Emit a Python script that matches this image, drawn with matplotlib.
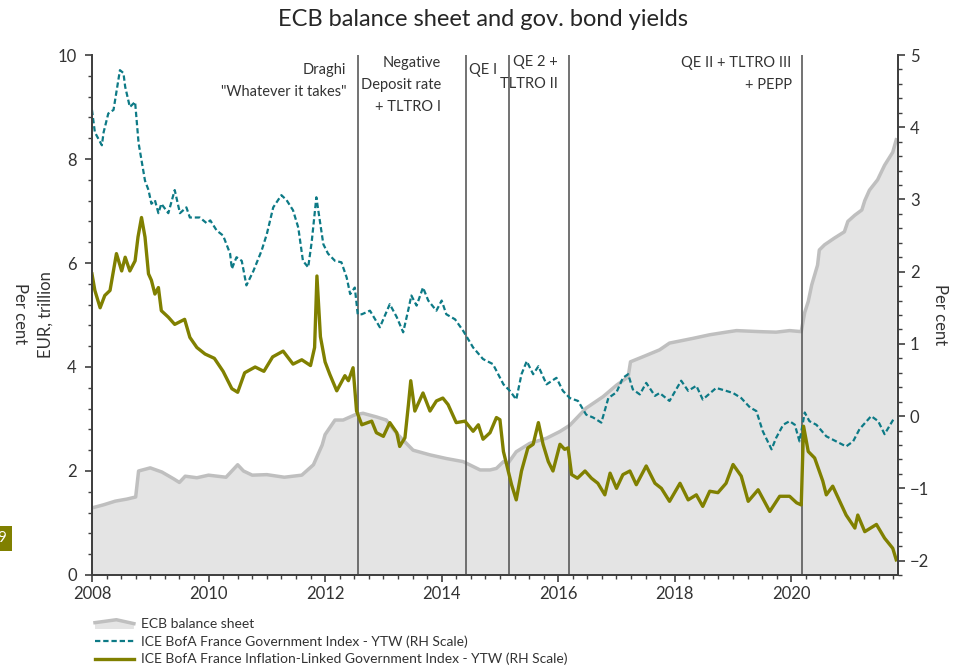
import matplotlib
matplotlib.use("Agg")
import matplotlib.pyplot as plt
import matplotlib.transforms as mtransforms
from matplotlib.ticker import MultipleLocator
from matplotlib.legend_handler import HandlerBase
from matplotlib.patches import Polygon
from matplotlib.lines import Line2D

plt.rcParams['font.family'] = ['Lato', 'DejaVu Sans']

# ECB balance sheet, EUR trillion (left axis)
bs_x = [2008.00, 2008.20, 2008.40, 2008.60, 2008.75, 2008.80, 2009.00, 2009.20, 2009.40, 2009.50,
        2009.60, 2009.80, 2010.00, 2010.30, 2010.50, 2010.60, 2010.75, 2011.00, 2011.30, 2011.60,
        2011.80, 2011.95, 2012.00, 2012.17, 2012.31, 2012.51, 2012.65, 2012.88, 2013.05, 2013.23,
        2013.51, 2013.80, 2014.08, 2014.37, 2014.66, 2014.83, 2014.94, 2015.06, 2015.14, 2015.28,
        2015.51, 2015.80, 2016.03, 2016.20, 2016.48, 2016.77, 2017.00, 2017.20, 2017.24, 2017.46,
        2017.74, 2017.91, 2018.31, 2018.60, 2018.88, 2019.06, 2019.46, 2019.74, 2019.97, 2020.17,
        2020.23, 2020.29, 2020.35, 2020.45, 2020.48, 2020.57, 2020.74, 2020.91, 2020.97, 2021.09,
        2021.21, 2021.26, 2021.34, 2021.48, 2021.60, 2021.74, 2021.80]
bs_val = [1.29, 1.35, 1.42, 1.46, 1.50, 2.00, 2.06, 1.98, 1.85, 1.78,
          1.90, 1.87, 1.92, 1.88, 2.12, 2.00, 1.92, 1.93, 1.88, 1.92,
          2.12, 2.50, 2.70, 2.98, 2.98, 3.08, 3.11, 3.04, 2.98, 2.72,
          2.40, 2.31, 2.24, 2.18, 2.02, 2.02, 2.05, 2.18, 2.15, 2.37,
          2.53, 2.63, 2.76, 2.88, 3.21, 3.43, 3.65, 3.81, 4.10, 4.20,
          4.33, 4.46, 4.55, 4.62, 4.67, 4.70, 4.68, 4.67, 4.70, 4.68,
          5.05, 5.26, 5.58, 5.96, 6.25, 6.35, 6.48, 6.60, 6.80, 6.92,
          7.02, 7.20, 7.40, 7.60, 7.88, 8.13, 8.37]

# ICE BofA France Government Index - YTW, per cent (right axis)
gov_x = [2008.00, 2008.05, 2008.17, 2008.20, 2008.28, 2008.37, 2008.48, 2008.54, 2008.57, 2008.65,
         2008.74, 2008.80, 2008.85, 2008.91, 2008.97, 2009.02, 2009.08, 2009.14, 2009.19, 2009.31,
         2009.42, 2009.51, 2009.62, 2009.68, 2009.85, 2009.97, 2010.03, 2010.14, 2010.25, 2010.37,
         2010.40, 2010.48, 2010.57, 2010.65, 2010.77, 2010.91, 2011.00, 2011.11, 2011.25, 2011.34,
         2011.45, 2011.54, 2011.62, 2011.71, 2011.77, 2011.85, 2011.91, 2011.97, 2012.05, 2012.17,
         2012.28, 2012.37, 2012.43, 2012.51, 2012.56, 2012.63, 2012.77, 2012.94, 2013.11, 2013.23,
         2013.34, 2013.43, 2013.48, 2013.57, 2013.68, 2013.77, 2013.91, 2014.00, 2014.08, 2014.23,
         2014.37, 2014.54, 2014.71, 2014.88, 2015.06, 2015.17, 2015.28, 2015.37, 2015.46, 2015.57,
         2015.66, 2015.80, 2015.97, 2016.08, 2016.20, 2016.34, 2016.48, 2016.60, 2016.74, 2016.86,
         2017.00, 2017.11, 2017.20, 2017.28, 2017.40, 2017.51, 2017.66, 2017.74, 2017.91, 2018.11,
         2018.23, 2018.37, 2018.48, 2018.71, 2018.88, 2019.00, 2019.14, 2019.29, 2019.40, 2019.51,
         2019.66, 2019.74, 2019.86, 2019.97, 2020.06, 2020.14, 2020.23, 2020.31, 2020.43, 2020.60,
         2020.77, 2020.94, 2021.06, 2021.17, 2021.37, 2021.49, 2021.60, 2021.77]
gov_yield = [4.24, 3.93, 3.75, 3.93, 4.19, 4.24, 4.79, 4.75, 4.56, 4.28,
             4.35, 3.78, 3.54, 3.26, 3.13, 2.94, 2.99, 2.81, 2.94, 2.81,
             3.13, 2.81, 2.89, 2.75, 2.75, 2.67, 2.71, 2.57, 2.50, 2.25,
             2.04, 2.20, 2.15, 1.81, 2.01, 2.29, 2.52, 2.89, 3.06, 2.99,
             2.85, 2.61, 2.15, 2.06, 2.41, 3.03, 2.71, 2.38, 2.25, 2.15,
             2.13, 1.92, 1.69, 1.78, 1.41, 1.41, 1.46, 1.23, 1.55, 1.37,
             1.16, 1.48, 1.67, 1.53, 1.78, 1.60, 1.46, 1.60, 1.41, 1.34,
             1.18, 0.95, 0.79, 0.72, 0.44, 0.35, 0.23, 0.58, 0.76, 0.58,
             0.69, 0.44, 0.53, 0.35, 0.25, 0.21, 0.02, -0.02, -0.09, 0.25,
             0.33, 0.53, 0.58, 0.37, 0.30, 0.46, 0.28, 0.32, 0.21, 0.49,
             0.35, 0.42, 0.23, 0.39, 0.35, 0.32, 0.25, 0.12, 0.07, -0.21,
             -0.46, -0.30, -0.12, -0.07, -0.12, -0.35, 0.05, -0.07, -0.12, -0.28,
             -0.35, -0.42, -0.35, -0.18, 0.00, -0.07, -0.25, -0.02]

# ICE BofA France Inflation-Linked Government Index - YTW, per cent (right axis)
il_x = [2008.00, 2008.05, 2008.14, 2008.22, 2008.31, 2008.42, 2008.51, 2008.57, 2008.65, 2008.74,
        2008.79, 2008.85, 2008.91, 2008.97, 2009.02, 2009.08, 2009.14, 2009.19, 2009.31, 2009.42,
        2009.59, 2009.68, 2009.80, 2009.94, 2010.10, 2010.25, 2010.40, 2010.50, 2010.62, 2010.80,
        2010.95, 2011.10, 2011.28, 2011.45, 2011.60, 2011.75, 2011.82, 2011.86, 2011.92, 2012.00,
        2012.08, 2012.20, 2012.34, 2012.40, 2012.48, 2012.54, 2012.63, 2012.80, 2012.88, 2013.00,
        2013.11, 2013.23, 2013.28, 2013.37, 2013.43, 2013.47, 2013.54, 2013.68, 2013.80, 2013.91,
        2014.02, 2014.11, 2014.25, 2014.40, 2014.54, 2014.63, 2014.71, 2014.83, 2014.94, 2015.00,
        2015.06, 2015.20, 2015.28, 2015.37, 2015.48, 2015.57, 2015.66, 2015.74, 2015.83, 2015.91,
        2016.03, 2016.11, 2016.17, 2016.23, 2016.33, 2016.46, 2016.57, 2016.68, 2016.80, 2016.89,
        2017.00, 2017.11, 2017.23, 2017.34, 2017.51, 2017.66, 2017.77, 2017.91, 2018.09, 2018.23,
        2018.37, 2018.48, 2018.60, 2018.74, 2018.88, 2019.00, 2019.14, 2019.26, 2019.43, 2019.63,
        2019.80, 2019.97, 2020.09, 2020.17, 2020.21, 2020.29, 2020.40, 2020.54, 2020.60, 2020.71,
        2020.83, 2020.94, 2021.09, 2021.14, 2021.26, 2021.46, 2021.60, 2021.74, 2021.80]
il_yield = [1.97, 1.74, 1.50, 1.67, 1.74, 2.25, 2.01, 2.20, 2.01, 2.15,
            2.48, 2.75, 2.48, 1.97, 1.88, 1.69, 1.78, 1.46, 1.37, 1.27,
            1.34, 1.09, 0.95, 0.86, 0.80, 0.62, 0.38, 0.33, 0.60, 0.68,
            0.62, 0.82, 0.90, 0.72, 0.78, 0.70, 0.95, 1.94, 1.10, 0.75,
            0.58, 0.35, 0.56, 0.49, 0.67, 0.07, -0.12, -0.07, -0.23, -0.28,
            -0.09, -0.23, -0.42, -0.30, 0.16, 0.49, 0.07, 0.32, 0.07, 0.21,
            0.25, 0.16, -0.09, -0.07, -0.21, -0.12, -0.32, -0.23, -0.02, -0.05,
            -0.49, -0.95, -1.16, -0.76, -0.44, -0.39, -0.09, -0.39, -0.63, -0.76,
            -0.39, -0.46, -0.44, -0.81, -0.86, -0.76, -0.86, -0.93, -1.09, -0.79,
            -1.00, -0.81, -0.76, -0.95, -0.69, -0.93, -1.00, -1.18, -0.93, -1.16,
            -1.09, -1.25, -1.04, -1.06, -0.93, -0.67, -0.83, -1.18, -1.02, -1.32,
            -1.11, -1.11, -1.20, -1.23, -0.14, -0.49, -0.58, -0.90, -1.09, -0.97,
            -1.18, -1.37, -1.55, -1.37, -1.60, -1.50, -1.69, -1.83, -1.99]

# policy events
event_x = [2012.56, 2014.41, 2015.15, 2016.18, 2020.18]
event_text = [['Draghi', '"Whatever it takes"'],
              ['Negative', 'Deposit rate', '+ TLTRO I'],
              ['QE I'],
              ['QE 2 +', 'TLTRO II'],
              ['QE II + TLTRO III', '+ PEPP']]
event_gap = [8.4, 17.8, 8.6, 8.0, 7.4]       # points left of the line
event_top = [0.971, 0.985, 0.971, 0.987, 0.985]  # axes fraction of first line

TEAL = '#0d7a86'
OLIVE = '#808000'
AREA = '#e4e4e4'
AREA_LINE = '#bfbfbf'
AXC = '#404040'


class AreaHandler(HandlerBase):
    def create_artists(self, legend, orig_handle, xd, yd, w, h, fontsize, trans):
        top = [(0, 0.55 * h), (0.55 * w, 0.85 * h), (w, 0.45 * h)]
        poly = Polygon([(0, -0.1 * h)] + top + [(w, -0.1 * h)], closed=True,
                       facecolor=AREA, edgecolor='none', transform=trans)
        ln = Line2D([p[0] for p in top], [p[1] for p in top], color=AREA_LINE,
                    lw=2.5, transform=trans)
        return [poly, ln]


fig = plt.figure(figsize=(9.66, 6.7), dpi=100)
ax = fig.add_axes([0.0952, 0.1418, 0.8344, 0.7761])
ax2 = ax.twinx()

area = ax.fill_between(bs_x, bs_val, 0, color=AREA, lw=0, zorder=1)
ax.plot(bs_x, bs_val, color=AREA_LINE, lw=2.5, zorder=2)

for xv in event_x:
    ax.axvline(xv, color='#5a5a5a', lw=1.2, zorder=3)

blend = mtransforms.blended_transform_factory(ax.transData, ax.transAxes)
for xv, lines, gap, top in zip(event_x, event_text, event_gap, event_top):
    for i, s in enumerate(lines):
        ax.annotate(s, xy=(xv, top - i * 0.0423), xycoords=blend,
                    xytext=(-gap, 0), textcoords='offset points',
                    ha='right', va='center', fontsize=10.5, color='#333333')

gl, = ax2.plot(gov_x, gov_yield, color=TEAL, lw=1.6, dashes=(2.4, 1.3))
il, = ax2.plot(il_x, il_yield, color=OLIVE, lw=2.4)

ax.set_xlim(2008, 2021.83)
ax.set_ylim(0, 10)
ax2.set_ylim(-2.2, 5)
ax.set_xticks(range(2008, 2021, 2))
ax.xaxis.set_minor_locator(MultipleLocator(0.25))
ax.set_yticks(range(0, 11, 2))
ax.yaxis.set_minor_locator(MultipleLocator(0.4))
ax2.set_yticks(range(-2, 6))
ax2.yaxis.set_minor_locator(MultipleLocator(0.2))

for a in (ax, ax2):
    a.spines['top'].set_visible(False)
    for sp in a.spines.values():
        sp.set_color(AXC)
        sp.set_linewidth(1.3)
    a.tick_params(which='major', direction='out', length=5, width=1.2, color=AXC,
                  labelsize=12, labelcolor='#333333')
    a.tick_params(which='minor', direction='out', length=3, width=1.0, color=AXC)
ax.tick_params(axis='x', pad=3)
ax.tick_params(axis='y', pad=6)

ax.set_ylabel('EUR, trillion', fontsize=12, color='#333333')
ax.yaxis.set_label_coords(-0.048, 0.5)
ax2.set_ylabel('Per cent', fontsize=12, color='#333333', rotation=-90, labelpad=14)
fig.text(20 / 966, 1 - 314 / 670, 'Per cent', rotation=-90, fontsize=12,
         color='#333333', ha='center', va='center')

fig.text(0.5, 1 - 19 / 670, 'ECB balance sheet and gov. bond yields',
         ha='center', va='center', fontsize=17, color='#262626')

fig.text(6.5 / 966, 1 - 538 / 670, '9', ha='right', va='center', fontsize=11,
         color='white', bbox=dict(facecolor=OLIVE, edgecolor='none', pad=4))

fig.legend([area, gl, il],
           ['ECB balance sheet',
            'ICE BofA France Government Index - YTW (RH Scale)',
            'ICE BofA France Inflation-Linked Government Index - YTW (RH Scale)'],
           handler_map={area: AreaHandler()},
           loc='upper left', bbox_to_anchor=(95 / 966, 1 - 618 / 670),
           frameon=False, fontsize=10, handlelength=2.8, handletextpad=0.5,
           labelspacing=0.37, borderpad=0, borderaxespad=0, labelcolor='#333333')

fig.savefig('out.png', dpi=100)
